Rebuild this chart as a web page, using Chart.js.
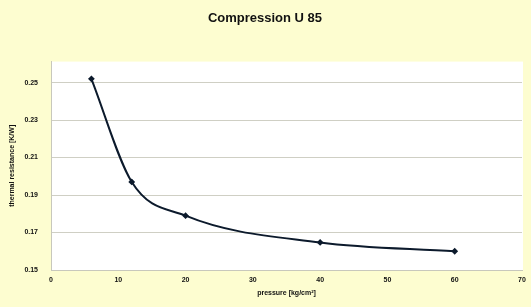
<!DOCTYPE html>
<html>
<head>
<meta charset="utf-8">
<script src="https://cdn.jsdelivr.net/npm/chart.js@4/dist/chart.umd.min.js"></script>
<style>
html,body{margin:0;padding:0;background:#fdfdd0;}
#wrap{width:531px;height:307px;position:relative;}
</style>
</head>
<body>
<div id="wrap"><canvas id="c" width="531" height="307"></canvas></div>
<script>
const chartTitle = "Compression U 85";
const xTitle = "pressure [kg/cm²]";
const yTitle = "thermal resistance [K/W]";
const pressure = [6, 12, 20, 40, 60];
const resistance = [0.252, 0.197, 0.179, 0.1647, 0.16];
const yTickValues = [0.15, 0.17, 0.19, 0.21, 0.23, 0.25];
const xTickValues = [0, 10, 20, 30, 40, 50, 60, 70];

const bgPlugin = {
  id: 'bg',
  beforeDraw(chart) {
    const {ctx, chartArea: a} = chart;
    ctx.save();
    ctx.fillStyle = '#fdfdd0';
    ctx.fillRect(0, 0, chart.width, chart.height);
    ctx.fillStyle = '#ffffff';
    ctx.fillRect(a.left, a.top, a.right - a.left + 1, a.bottom - a.top);
    ctx.restore();
  }
};

new Chart(document.getElementById('c'), {
  type: 'scatter',
  data: {
    datasets: [{
      data: pressure.map((p, i) => ({x: p, y: resistance[i]})),
      showLine: true,
      borderColor: '#0c1a2c',
      backgroundColor: '#0c1a2c',
      borderWidth: 2,
      pointRadius: 2,
      pointStyle: 'rectRot',
      cubicInterpolationMode: 'monotone'
    }]
  },
  options: {
    responsive: false,
    animation: false,
    devicePixelRatio: 1,
    layout: {padding: {left: 8, right: 9, top: 0, bottom: 10}},
    plugins: {
      legend: {display: false},
      tooltip: {enabled: false},
      title: {
        display: true,
        text: chartTitle,
        color: '#111',
        font: {family: 'Liberation Sans', size: 13, weight: 'bold'},
        padding: {top: 11, bottom: 35}
      }
    },
    scales: {
      x: {
        type: 'linear',
        min: 0, max: 70,
        afterBuildTicks(s) { s.ticks = xTickValues.map(v => ({value: v})); },
        afterFit(s) { s.height = 27; },
        grid: {display: false, drawTicks: true, tickLength: 3},
        border: {display: true, color: '#c8c8bc', width: 1},
        ticks: {color: '#111', font: {family: 'Liberation Sans', size: 7, weight: 'bold'}, padding: 3, maxRotation: 0},
        title: {display: true, text: xTitle, color: '#111', font: {family: 'Liberation Sans', size: 7, weight: 'bold'}, padding: {top: 4, bottom: 0}}
      },
      y: {
        type: 'linear',
        min: 0.15, max: 0.2612,
        afterBuildTicks(s) { s.ticks = yTickValues.map(v => ({value: v})); },
        afterFit(s) { s.width = 43; },
        grid: {color: '#cfcfc4', lineWidth: 1, drawTicks: false},
        border: {display: true, color: '#c8c8bc', width: 1},
        ticks: {color: '#111', font: {family: 'Liberation Sans', size: 7, weight: 'bold'}, padding: 13,
          callback: v => v.toFixed(2)},
        title: {display: true, text: yTitle, color: '#111', font: {family: 'Liberation Sans', size: 7, weight: 'bold'}, padding: {top: 0, bottom: 4}}
      }
    }
  },
  plugins: [bgPlugin]
});
</script>
</body>
</html>
